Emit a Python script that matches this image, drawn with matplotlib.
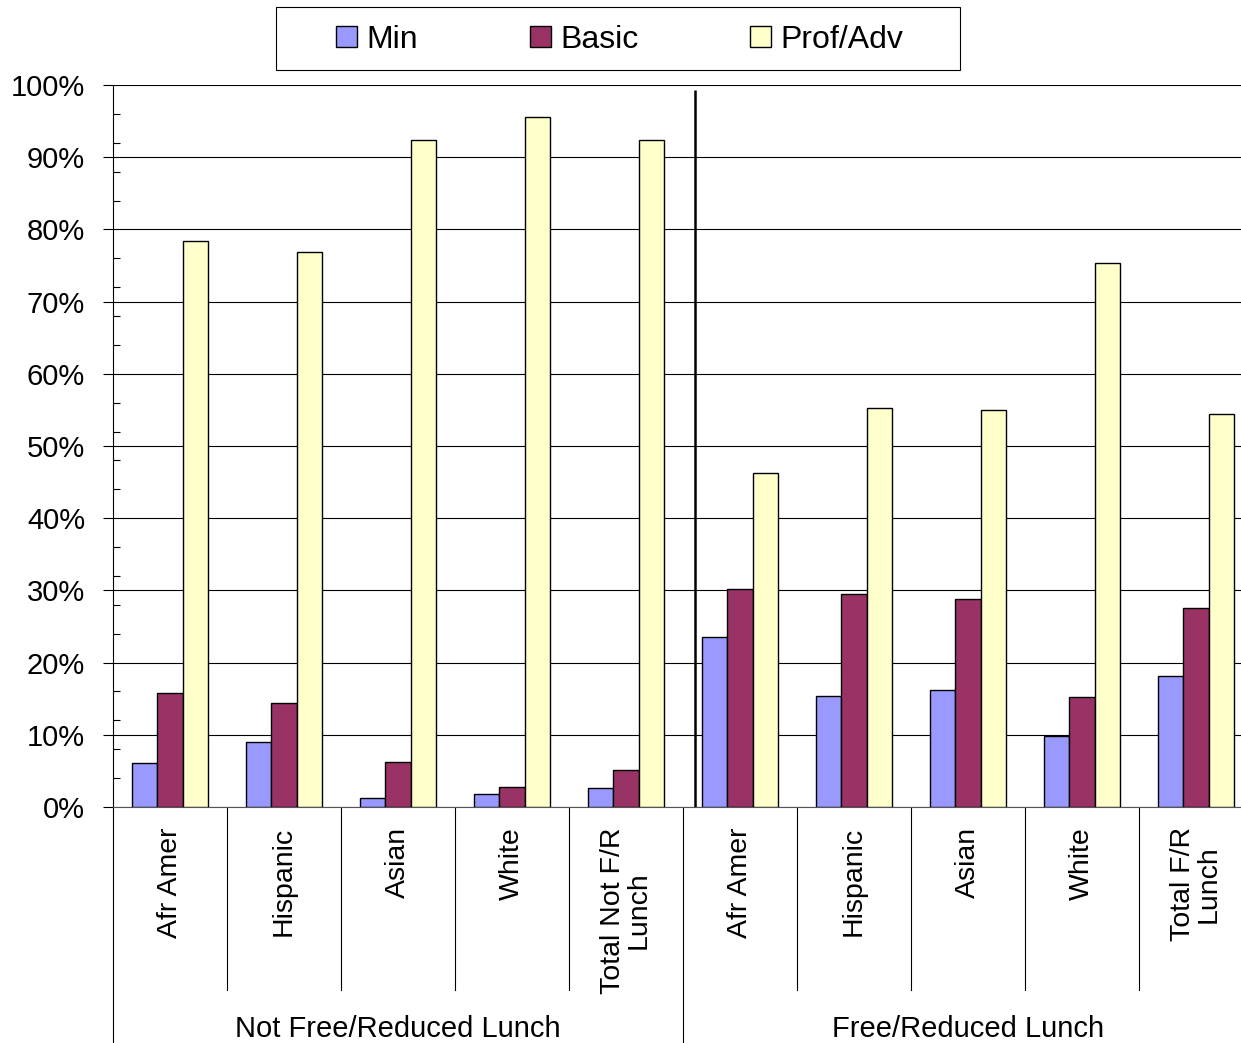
import matplotlib
matplotlib.use('Agg')
import matplotlib.pyplot as plt
from matplotlib.patches import Rectangle, Patch
from matplotlib.ticker import MultipleLocator, PercentFormatter
import numpy as np

plt.rcParams['font.family'] = ['Liberation Sans', 'DejaVu Sans']

# data (percent)
subgroups = ['Afr Amer', 'Hispanic', 'Asian', 'White', 'Total Not F/R\nLunch',
             'Afr Amer', 'Hispanic', 'Asian', 'White', 'Total F/R\nLunch']
groups = ['Not Free/Reduced Lunch', 'Free/Reduced Lunch']
series = ['Min', 'Basic', 'Prof/Adv']
min_vals = [6.1, 9.0, 1.2, 1.8, 2.6, 23.5, 15.4, 16.2, 9.8, 18.1]
basic_vals = [15.8, 14.4, 6.2, 2.8, 5.1, 30.2, 29.5, 28.8, 15.2, 27.6]
prof_vals = [78.4, 76.9, 92.4, 95.6, 92.4, 46.3, 55.3, 55.0, 75.3, 54.4]
colors = ['#9999FF', '#993366', '#FFFFCC']

W, H = 1241, 1043
fig = plt.figure(figsize=(W / 100, H / 100), dpi=100)
ax = fig.add_axes([113 / W, 1 - 807 / H, 1140 / W, 722 / H])

x = np.arange(len(subgroups))
bw = 0.225
for i, vals in enumerate([min_vals, basic_vals, prof_vals]):
    ax.bar(x + (i - 1) * bw, vals, bw, color=colors[i], edgecolor='black',
           linewidth=1.0, zorder=3, label=series[i])

ax.set_xlim(-0.5, len(subgroups) - 0.5)
ax.set_ylim(0, 100)
ax.yaxis.set_major_locator(MultipleLocator(10))
ax.yaxis.set_minor_locator(MultipleLocator(4))
ax.yaxis.set_major_formatter(PercentFormatter(decimals=0))
ax.tick_params(axis='y', which='major', length=7.5, width=0.8, direction='out',
               labelsize=21, pad=12.5)
ax.tick_params(axis='y', which='minor', length=5, width=0.8, direction='in')
ax.set_xticks([])
ax.grid(axis='y', color='black', linewidth=0.8, zorder=0)
for s in ['top', 'right']:
    ax.spines[s].set_visible(False)
ax.spines['left'].set_linewidth(0.8)
ax.spines['bottom'].set_linewidth(0.8)
ax.spines['bottom'].set_color('#555555')

# divider between the two groups
ax.vlines(4.605, 0, 99.3, color='black', linewidth=1.8, zorder=4)

# category axis: separators and labels
tr = ax.get_xaxis_transform()
for xs in [0.5, 1.5, 2.5, 3.5, 5.5, 6.5, 7.5, 8.5]:
    ax.plot([xs, xs], [0, -0.2535], color='black', linewidth=0.8,
            transform=tr, clip_on=False)
for xs in [-0.5, 4.5]:
    ax.plot([xs, xs], [0, -0.33], color='black', linewidth=0.8,
            transform=tr, clip_on=False)
for xi, lab in zip(x, subgroups):
    ax.text(xi, -0.028, lab, transform=tr, rotation=90, ha='center', va='top',
            multialignment='center', fontsize=20.5, linespacing=1.0)
for gi, g in enumerate(groups):
    ax.text(2 + gi * 5, -0.307, g, transform=tr, ha='center', va='center',
            fontsize=21)

# legend with hand drawn frame
fig.patches.append(Rectangle((276 / W, 1 - 70 / H), 684 / W, 63 / H,
                             transform=fig.transFigure, fill=False,
                             edgecolor='black', linewidth=0.8))
handles = [Patch(facecolor=c, edgecolor='black', linewidth=1.0) for c in colors]
fig.legend(handles, series, loc='center', bbox_to_anchor=(620 / W, 1 - 40 / H),
           ncol=3, frameon=False, fontsize=23, handlelength=0.65,
           handleheight=0.65, handletextpad=0.3, columnspacing=3.5)

fig.savefig('out.png', dpi=100)
